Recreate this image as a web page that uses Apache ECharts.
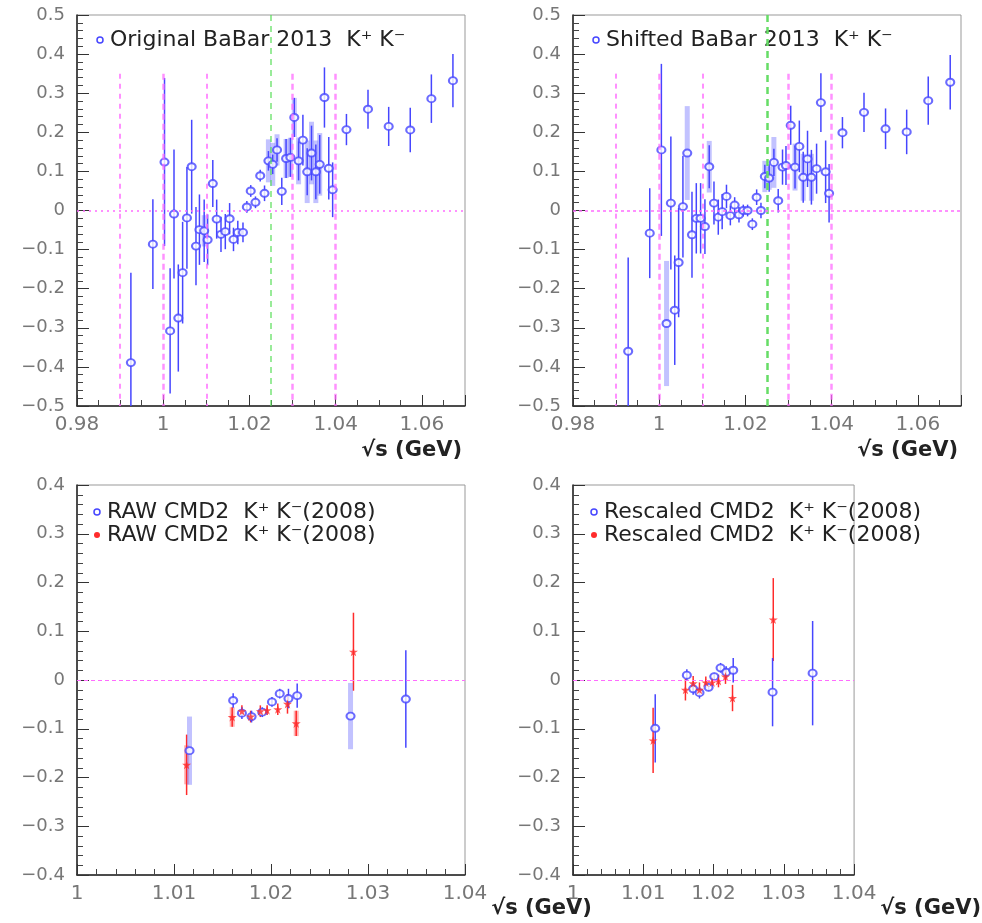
<!DOCTYPE html>
<html>
<head>
<meta charset="utf-8">
<script src="https://cdn.jsdelivr.net/npm/echarts@6/dist/echarts.min.js"></script>
<style>
html, body { margin: 0; padding: 0; background: #fff; }
#chart { width: 982px; height: 923px; }
</style>
</head>
<body>
<div id="chart"></div>
<script>
// ---- Original BaBar 2013 K+K- (top left)
const origX = [0.9925, 0.9976, 1.0003, 1.0016, 1.0025, 1.0035, 1.0045, 1.0055, 1.0066, 1.0076, 1.0084, 1.0095, 1.0103, 1.0115, 1.0124, 1.0134, 1.0144, 1.0154, 1.0163, 1.0173, 1.0185, 1.0194, 1.0203, 1.0214, 1.0225, 1.0235, 1.0244, 1.0254, 1.0264, 1.0275, 1.0285, 1.0295, 1.0304, 1.0314, 1.0324, 1.0334, 1.0344, 1.0354, 1.0363, 1.0374, 1.0384, 1.0393, 1.0425, 1.0475, 1.0523, 1.0573, 1.0622, 1.0672];
const origY = [-0.389, -0.086, 0.124, -0.308, -0.009, -0.275, -0.159, -0.019, 0.112, -0.091, -0.049, -0.052, -0.075, 0.069, -0.022, -0.061, -0.054, -0.021, -0.074, -0.056, -0.056, 0.009, 0.05, 0.021, 0.089, 0.044, 0.127, 0.118, 0.155, 0.049, 0.133, 0.136, 0.238, 0.127, 0.18, 0.099, 0.147, 0.099, 0.118, 0.289, 0.108, 0.053, 0.207, 0.259, 0.215, 0.206, 0.286, 0.332];
const origErr = [0.23, 0.115, 0.215, 0.16, 0.165, 0.137, 0.13, 0.13, 0.12, 0.1, 0.09, 0.08, 0.065, 0.06, 0.05, 0.045, 0.045, 0.04, 0.03, 0.03, 0.025, 0.015, 0.015, 0.015, 0.015, 0.02, 0.025, 0.025, 0.03, 0.035, 0.05, 0.05, 0.05, 0.05, 0.065, 0.06, 0.07, 0.07, 0.075, 0.077, 0.08, 0.07, 0.04, 0.05, 0.05, 0.057, 0.062, 0.068];
const origBand = [0, 0, 0, 0, 0, 0, 0, 0, 0, 0, 0, 0.04, 0, 0, 0, 0, 0, 0, 0, 0, 0, 0, 0, 0, 0, 0, 0.055, 0.055, 0.04, 0, 0.05, 0.05, 0.05, 0.06, 0, 0.08, 0.08, 0.08, 0.08, 0, 0, 0, 0, 0, 0, 0, 0, 0];

// ---- Shifted BaBar 2013 K+K- (top right)
const shiftX = [0.9928, 0.9978, 1.0005, 1.0017, 1.0027, 1.0036, 1.0045, 1.0055, 1.0065, 1.0076, 1.0086, 1.0096, 1.0106, 1.0116, 1.0127, 1.0137, 1.0146, 1.0156, 1.0165, 1.0175, 1.0185, 1.0195, 1.0205, 1.0216, 1.0226, 1.0236, 1.0245, 1.0255, 1.0266, 1.0276, 1.0286, 1.0294, 1.0305, 1.0315, 1.0325, 1.0334, 1.0344, 1.0353, 1.0365, 1.0375, 1.0386, 1.0394, 1.0425, 1.0475, 1.0525, 1.0574, 1.0624, 1.0675];
const shiftY = [-0.36, -0.058, 0.155, -0.289, 0.019, -0.255, -0.133, 0.01, 0.147, -0.062, -0.02, -0.02, -0.041, 0.112, 0.019, -0.017, -0.003, 0.036, -0.013, 0.014, -0.011, 0.0, 0.0, -0.035, 0.034, 0.0, 0.087, 0.083, 0.123, 0.025, 0.111, 0.115, 0.218, 0.111, 0.164, 0.085, 0.132, 0.085, 0.107, 0.276, 0.099, 0.044, 0.199, 0.251, 0.209, 0.201, 0.281, 0.328];
const shiftErr = [0.24, 0.115, 0.22, 0, 0.17, 0.14, 0.14, 0.13, 0, 0.11, 0.09, 0.09, 0.07, 0.055, 0.055, 0.045, 0.045, 0.03, 0.025, 0.02, 0.02, 0.015, 0.015, 0.015, 0.02, 0.02, 0.03, 0.035, 0.035, 0.03, 0.045, 0.05, 0.05, 0.055, 0.066, 0.065, 0.072, 0.07, 0.064, 0.075, 0.08, 0.075, 0.04, 0.05, 0.052, 0.057, 0.062, 0.07];
const shiftBand = [0, 0, 0, 0.16, 0, 0, 0, 0, 0.12, 0, 0, 0, 0, 0.066, 0, 0, 0, 0, 0, 0, 0, 0, 0, 0, 0, 0, 0.04, 0.03, 0.065, 0, 0, 0, 0, 0.06, 0, 0.06, 0, 0.06, 0, 0, 0, 0, 0, 0, 0, 0, 0, 0];

// ---- CMD2 K+K- (2008), raw (bottom left)
const rawBlueX = [1.0116, 1.0161, 1.017, 1.018, 1.0191, 1.0201, 1.0209, 1.0218, 1.0227, 1.0282, 1.0339];
const rawBlueY = [-0.145, -0.042, -0.068, -0.075, -0.066, -0.045, -0.028, -0.038, -0.032, -0.074, -0.039];
const rawBlueErr = [0, 0.015, 0.012, 0.012, 0.01, 0.01, 0.01, 0.02, 0.025, 0, 0.1];
const rawBlueBand = [0.07, 0, 0, 0, 0, 0, 0, 0, 0, 0.068, 0];
const rawRedX = [1.0113, 1.016, 1.017, 1.0179, 1.0189, 1.0196, 1.0207, 1.0217, 1.0226, 1.0285];
const rawRedY = [-0.174, -0.076, -0.064, -0.075, -0.064, -0.062, -0.06, -0.049, -0.089, 0.058];
const rawRedErr = [0.062, 0.02, 0.012, 0.012, 0.012, 0.01, 0.012, 0.02, 0.026, 0.08];
const rawRedBand = [0.04, 0.02, 0, 0, 0, 0, 0, 0, 0.026, 0];

// ---- CMD2 K+K- (2008), rescaled (bottom right)
const resBlueX = [1.0117, 1.0162, 1.0171, 1.018, 1.0193, 1.0201, 1.021, 1.0218, 1.0228, 1.0284, 1.0341];
const resBlueY = [-0.099, 0.01, -0.018, -0.026, -0.015, 0.007, 0.025, 0.016, 0.02, -0.025, 0.014];
const resBlueErr = [0.07, 0.012, 0.012, 0.012, 0.008, 0.008, 0.01, 0.012, 0.025, 0.07, 0.107];
const resRedX = [1.0114, 1.016, 1.0171, 1.018, 1.0189, 1.0198, 1.0207, 1.0217, 1.0227, 1.0285];
const resRedY = [-0.124, -0.02, -0.007, -0.02, -0.005, -0.005, -0.002, 0.007, -0.037, 0.124];
const resRedErr = [0.067, 0.022, 0.015, 0.015, 0.012, 0.01, 0.013, 0.015, 0.027, 0.085];

// ---- reference lines (top panels)
const refLinesX = [0.99, 1.0, 1.01, 1.03, 1.04];
const refLinesHeavy = [false, true, false, true, true];
const refLinesTop = 0.35;
const phiLineX = 1.025;

const legendLabels = ['Original BaBar 2013  K⁺ K⁻', 'Shifted BaBar 2013  K⁺ K⁻', 'RAW CMD2  K⁺ K⁻(2008)', 'Rescaled CMD2  K⁺ K⁻(2008)'];

const FONT = 'DejaVu Sans';
const BLUE = '#4646ff';
const BLUE_LIGHT = 'rgba(120,120,255,0.45)';
const RED = '#ff2b2b';
const RED_LIGHT = 'rgba(255,110,110,0.5)';
const MAGENTA = '#ff6cff';
const STAR = 'path://M50,0 L61,35 L98,35 L68,57 L79,91 L50,70 L21,91 L32,57 L2,35 L39,35 Z';

const grids = [
    { left: 77, top: 15, width: 388, height: 391 },
    { left: 573, top: 15, width: 388, height: 391 },
    { left: 77, top: 485, width: 388, height: 390 },
    { left: 573, top: 485, width: 388, height: 390 }
];

function makeXAxis(gridIndex, min, max, interval, minorSplit, top) {
    return {
        type: 'value', gridIndex, min, max, interval,
        name: '√s (GeV)', nameLocation: 'end', nameGap: -3,
        nameTextStyle: {
            align: 'right', verticalAlign: 'top', padding: [top ? 34 : 23, 0, 0, 0],
            fontFamily: FONT, fontSize: 21, fontWeight: 'bold', color: '#222'
        },
        axisLine: { show: true, onZero: false, lineStyle: { color: '#222', width: 1.5 } },
        axisTick: { show: true, inside: true, length: 11, lineStyle: { color: '#333', width: 1 } },
        minorTick: { show: true, splitNumber: minorSplit, length: 6, lineStyle: { color: '#444', width: 1 } },
        axisLabel: {
            showMaxLabel: !top, margin: 9, fontFamily: FONT, fontSize: 20, color: '#777',
            formatter: v => String(+v.toFixed(2))
        },
        splitLine: { show: false }
    };
}

function makeYAxis(gridIndex, min, max) {
    return {
        type: 'value', gridIndex, min, max, interval: 0.1,
        axisLine: { show: true, onZero: false, lineStyle: { color: '#222', width: 1.5 } },
        axisTick: { show: true, inside: true, length: 12, lineStyle: { color: '#333', width: 1 } },
        minorTick: { show: true, splitNumber: 5, length: 6, lineStyle: { color: '#444', width: 1 } },
        axisLabel: {
            margin: 12, fontFamily: FONT, fontSize: 18, color: '#777',
            formatter: v => String(Math.round(v * 10) / 10).replace('-', '−')
        },
        splitLine: { show: false }
    };
}

function errorSeries(gridIndex, xs, ys, errs, bands, color, light, yMin, yMax) {
    return {
        type: 'custom', xAxisIndex: gridIndex, yAxisIndex: gridIndex, silent: true,
        data: xs.map((x, i) => [x, ys[i], errs[i], bands ? bands[i] : 0]),
        renderItem(params, api) {
            const x = api.value(0), y = api.value(1), e = api.value(2), b = api.value(3);
            const clamp = v => Math.max(yMin, Math.min(yMax, v));
            const seg = (h, stroke, lineWidth) => {
                const p1 = api.coord([x, clamp(y - h)]);
                const p2 = api.coord([x, clamp(y + h)]);
                return { type: 'line', shape: { x1: p1[0], y1: p1[1], x2: p2[0], y2: p2[1] }, style: { stroke, lineWidth } };
            };
            const children = [];
            if (b > 0) children.push(seg(b, light, 5));
            if (e > 0) children.push(seg(e, color, 1.5));
            return { type: 'group', children };
        }
    };
}

function markerSeries(gridIndex, xs, ys, star) {
    return {
        type: 'scatter', xAxisIndex: gridIndex, yAxisIndex: gridIndex, silent: true,
        symbol: star ? STAR : 'emptyCircle',
        symbolSize: star ? 9 : [8, 7],
        itemStyle: star ? { color: RED } : { color: BLUE, borderColor: BLUE, borderWidth: 1.5 },
        data: xs.map((x, i) => [x, ys[i]])
    };
}

function refSeries(gridIndex, phiStyle, zeroType) {
    const lines = refLinesX.map((x, i) => [
        {
            coord: [x, refLinesTop],
            lineStyle: refLinesHeavy[i]
                ? { color: MAGENTA, width: 2.5, type: [6, 4], opacity: 0.75 }
                : { color: MAGENTA, width: 1.5, type: [5, 5] }
        },
        { coord: [x, -0.5] }
    ]);
    lines.push([
        { coord: [phiLineX, 0.5], lineStyle: phiStyle },
        { coord: [phiLineX, -0.5] }
    ]);
    lines.push([
        { coord: [0.98, 0], lineStyle: { color: MAGENTA, width: 1.5, type: zeroType } },
        { coord: [1.07, 0] }
    ]);
    return {
        type: 'scatter', xAxisIndex: gridIndex, yAxisIndex: gridIndex, data: [], silent: true,
        markLine: { silent: true, symbol: 'none', label: { show: false }, animation: false, data: lines }
    };
}

function zeroSeries(gridIndex) {
    return {
        type: 'scatter', xAxisIndex: gridIndex, yAxisIndex: gridIndex, data: [], silent: true,
        markLine: {
            silent: true, symbol: 'none', label: { show: false }, animation: false,
            data: [[{ coord: [1.0, 0], lineStyle: { color: MAGENTA, width: 1, type: [4, 3] } }, { coord: [1.04, 0] }]]
        }
    };
}

function legendItem(x, y, text, star) {
    const marker = star
        ? { type: 'circle', shape: { cx: x, cy: y, r: 3 }, style: { fill: RED } }
        : { type: 'circle', shape: { cx: x, cy: y, r: 3 }, style: { fill: '#fff', stroke: BLUE, lineWidth: 1.5 } };
    return [
        marker,
        { type: 'text', x: x + 10, y, style: { text, fontFamily: FONT, fontSize: 22, fill: '#222', verticalAlign: 'middle' } }
    ];
}

const chart = echarts.init(document.getElementById('chart'));

const option = {
    animation: false,
    grid: grids.map(g => Object.assign({ show: true, borderColor: '#999', borderWidth: 1 }, g)),
    xAxis: [
        makeXAxis(0, 0.98, 1.07, 0.02, 4, true),
        makeXAxis(1, 0.98, 1.07, 0.02, 4, true),
        makeXAxis(2, 1.0, 1.04, 0.01, 5, false),
        makeXAxis(3, 1.0, 1.04, 0.01, 5, false)
    ],
    yAxis: [makeYAxis(0, -0.5, 0.5), makeYAxis(1, -0.5, 0.5), makeYAxis(2, -0.4, 0.4), makeYAxis(3, -0.4, 0.4)],
    series: [
        refSeries(0, { color: '#55dd55', width: 1.5, type: [6, 5], opacity: 0.8 }, [2, 4]),
        refSeries(1, { color: '#66dd66', width: 2.5, type: [7, 5] }, [3, 3]),
        zeroSeries(2),
        zeroSeries(3),
        errorSeries(0, origX, origY, origErr, origBand, BLUE, BLUE_LIGHT, -0.5, 0.5),
        markerSeries(0, origX, origY, false),
        errorSeries(1, shiftX, shiftY, shiftErr, shiftBand, BLUE, BLUE_LIGHT, -0.5, 0.5),
        markerSeries(1, shiftX, shiftY, false),
        errorSeries(2, rawRedX, rawRedY, rawRedErr, rawRedBand, RED, RED_LIGHT, -0.4, 0.4),
        errorSeries(2, rawBlueX, rawBlueY, rawBlueErr, rawBlueBand, BLUE, BLUE_LIGHT, -0.4, 0.4),
        markerSeries(2, rawBlueX, rawBlueY, false),
        markerSeries(2, rawRedX, rawRedY, true),
        errorSeries(3, resRedX, resRedY, resRedErr, null, RED, RED_LIGHT, -0.4, 0.4),
        errorSeries(3, resBlueX, resBlueY, resBlueErr, null, BLUE, BLUE_LIGHT, -0.4, 0.4),
        markerSeries(3, resBlueX, resBlueY, false),
        markerSeries(3, resRedX, resRedY, true)
    ],
    graphic: [].concat(
        legendItem(100, 40, legendLabels[0], false),
        legendItem(596, 40, legendLabels[1], false),
        legendItem(97, 512, legendLabels[2], false),
        legendItem(97, 535, legendLabels[2], true),
        legendItem(594, 512, legendLabels[3], false),
        legendItem(594, 535, legendLabels[3], true)
    )
};

chart.setOption(option);
</script>
</body>
</html>
